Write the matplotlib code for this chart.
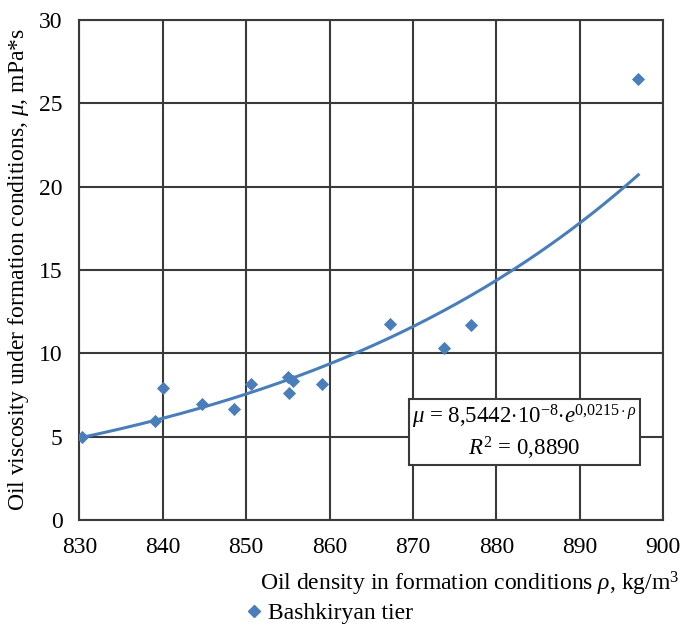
import numpy as np
import matplotlib
matplotlib.use("Agg")
import matplotlib.pyplot as plt
from matplotlib.lines import Line2D

plt.rcParams['font.family'] = ['Liberation Serif', 'DejaVu Serif']
plt.rcParams['mathtext.fontset'] = 'custom'
plt.rcParams['mathtext.rm'] = 'Liberation Serif'
plt.rcParams['mathtext.it'] = 'Liberation Serif:italic'

density = [830.3, 839.05, 840.05, 844.65, 848.57, 850.57, 855.05, 855.57, 855.09,
           859.05, 867.18, 873.7, 877.0, 897.0]
viscosity = [4.96, 5.96, 7.9, 6.94, 6.64, 8.14, 8.56, 8.36, 7.64,
             8.14, 11.76, 10.3, 11.68, 26.44]
x_ticks = [830, 840, 850, 860, 870, 880, 890, 900]
y_ticks = [0, 5, 10, 15, 20, 25, 30]
series_name = "Bashkiryan tier"

blue = '#4A7EBB'
grid_c = '#3a3a3a'
fs = 17

fig = plt.figure(figsize=(6.83, 6.26), dpi=100)
ax = fig.add_axes([0.1161, 0.1693, 0.9712 - 0.1161, 0.968 - 0.1693])

x = np.array(density)
y = np.array(viscosity)
b, lna = np.polyfit(x, np.log(y), 1)
xs = np.linspace(x.min(), x.max(), 200)
ax.plot(xs, np.exp(lna) * np.exp(b * xs), color=blue, lw=2.2, zorder=3)
ax.scatter(x, y, marker='D', s=45, color=blue, zorder=4, linewidths=0)

ax.set_xlim(830, 900)
ax.set_ylim(0, 30)
ax.set_xticks(x_ticks)
ax.set_yticks(y_ticks)
ax.grid(True, color=grid_c, lw=1.5)
for s in ax.spines.values():
    s.set_color(grid_c)
    s.set_linewidth(1.5)
ax.tick_params(axis='x', length=0, labelsize=fs, pad=12)
ax.tick_params(axis='y', length=0, labelsize=fs, pad=12)

ax.set_ylabel(r"Oil viscosity under formation conditions, $\mathit{\mu}$, mPa*s", fontsize=fs, labelpad=6)

fig.text(0.995, 1 - 590 / 626, r"Oil density in formation conditions $\mathit{\rho}$, kg/m$^{3}$",
         ha='right', va='baseline', fontsize=fs)

# equation box
eq = (r"$\mathit{\mu}$ = 8,5442$\cdot$10$^{-8}$$\cdot$$\mathit{e}$$^{0{,}0215\cdot\mathit{\rho}}$" + "\n" +
      r"$\mathit{R}^{2}$ = 0,8890")
ax.text(0.762, 0.175, eq, ha='center', va='center', fontsize=16.5, linespacing=1.15,
        multialignment='center', transform=ax.transAxes,
        bbox=dict(boxstyle='square,pad=0.15', fc='white', ec=grid_c, lw=1.5), zorder=5)

handle = Line2D([], [], marker='D', color=blue, ls='none', markersize=6)
fig.legend([handle], [series_name], loc='center left', bbox_to_anchor=(0.355, 1 - 613 / 626),
           frameon=False, fontsize=fs, handletextpad=0.1, handlelength=1.0,
           borderaxespad=0, borderpad=0)

fig.savefig("out.png", dpi=100)
